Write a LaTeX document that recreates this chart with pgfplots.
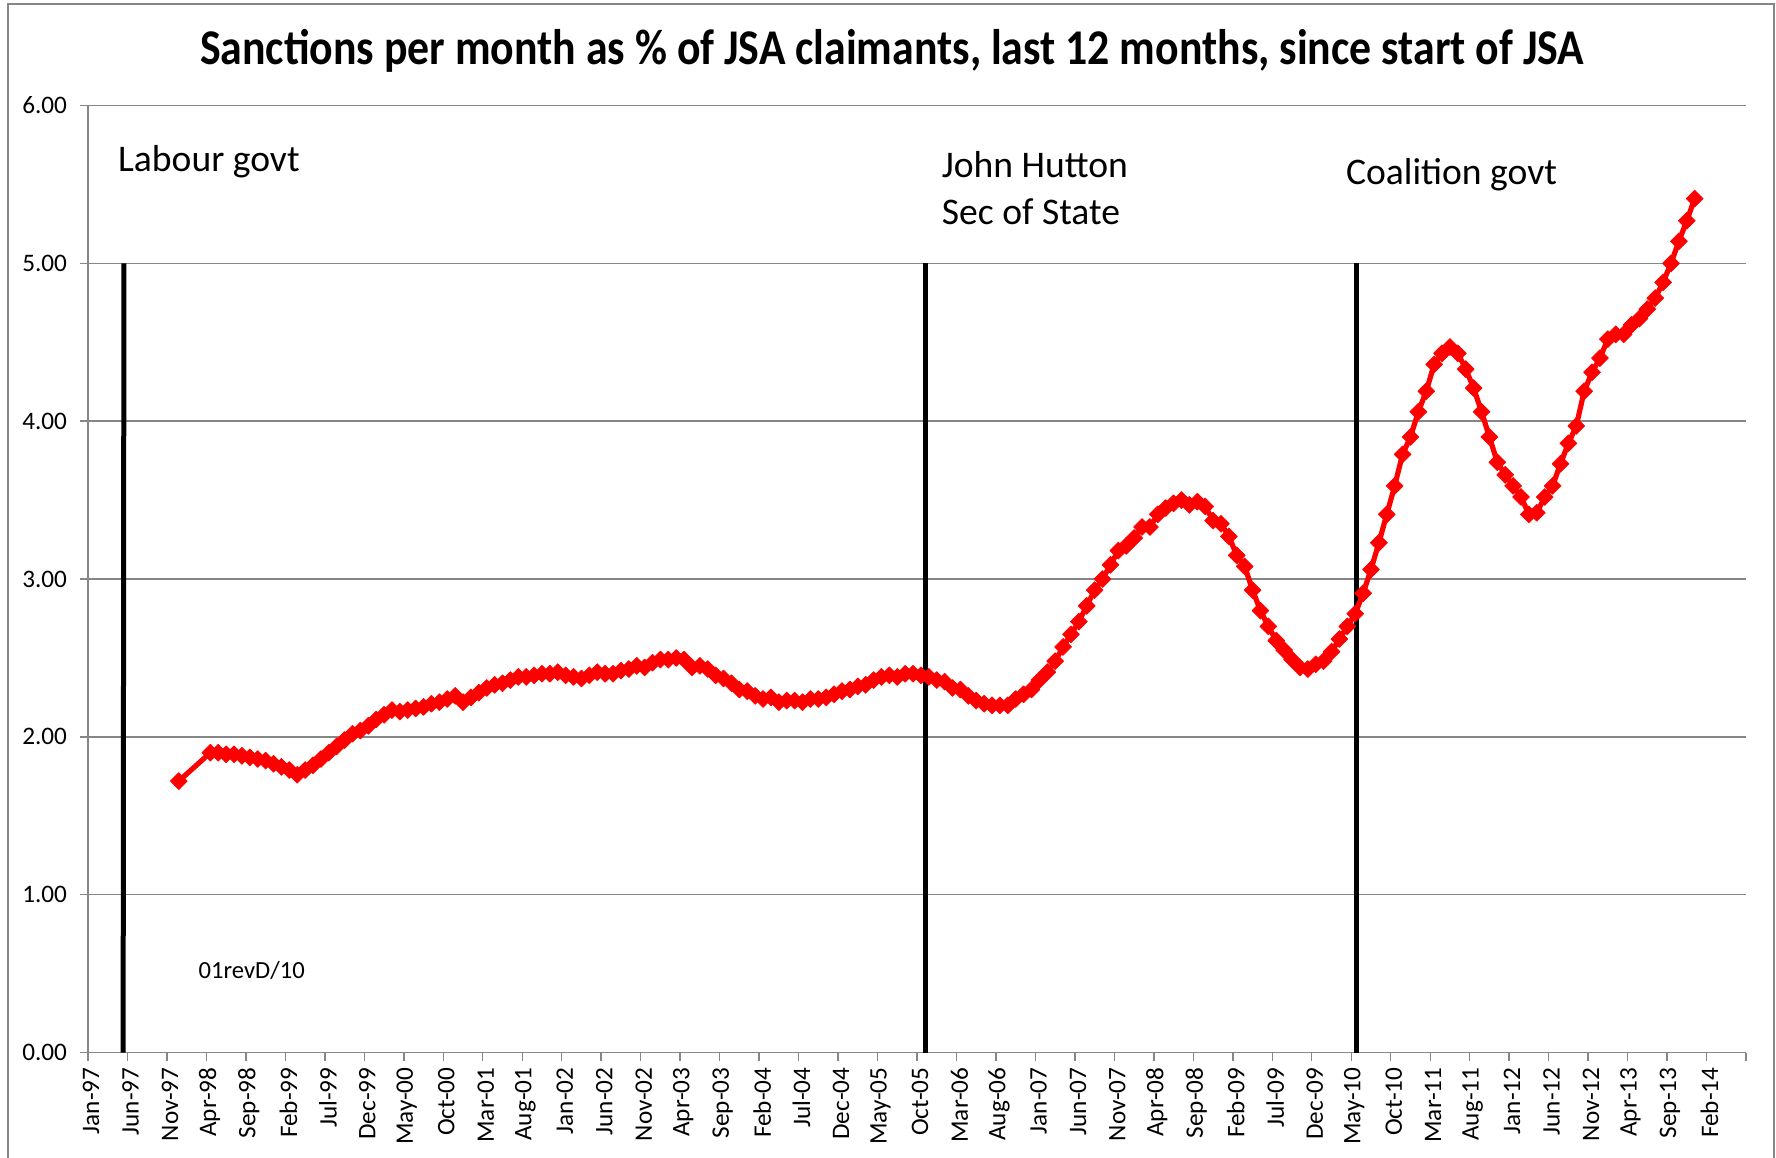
\documentclass[border=0pt]{standalone}
\usepackage{fontspec}
\setmainfont{Carlito}
\usepackage{pgfplots}
\pgfplotsset{compat=1.18}
\definecolor{gridgray}{RGB}{134,134,134}
\begin{document}
\begin{tikzpicture}
\useasboundingbox (0,0) rectangle (888pt,578.5pt);
\draw[gridgray, line width=0.75pt] (4pt,-5pt) -- (4pt,576.5pt) -- (887pt,576.5pt) -- (887pt,-5pt);
\node[anchor=base, inner sep=0pt, xscale=0.876, font=\fontsize{25}{29}\selectfont\bfseries] at (446pt,546pt) {Sanctions per month as \% of JSA claimants, last 12 months, since start of JSA};
\begin{axis}[
  at={(44pt,52.2pt)}, anchor=south west,
  scale only axis, width=829pt, height=473.55pt,
  xmin=0, xmax=210, ymin=0, ymax=6,
  axis x line*=bottom, axis y line*=left,
  axis line style={gridgray, line width=0.7pt, -},
  ymajorgrids, grid style={gridgray, line width=0.7pt},
  ytick={0,1,2,3,4,5,6},
  yticklabels={0.00,1.00,2.00,3.00,4.00,5.00,6.00},
  xtick={0,5,...,210},
  xticklabels={Jan-97,Jun-97,Nov-97,Apr-98,Sep-98,Feb-99,Jul-99,Dec-99,May-00,Oct-00,Mar-01,Aug-01,Jan-02,Jun-02,Nov-02,Apr-03,Sep-03,Feb-04,Jul-04,Dec-04,May-05,Oct-05,Mar-06,Aug-06,Jan-07,Jun-07,Nov-07,Apr-08,Sep-08,Feb-09,Jul-09,Dec-09,May-10,Oct-10,Mar-11,Aug-11,Jan-12,Jun-12,Nov-12,Apr-13,Sep-13,Feb-14,{}},
  tick align=outside, major tick length=4pt,
  tick style={gridgray, line width=0.7pt},
  ticklabel style={font=\fontsize{12.6}{14}\selectfont},
  xticklabel style={rotate=90, anchor=east, yshift=-1.5pt},
  yticklabel style={xshift=-3pt},
  clip=false,
]
\addplot[black, line width=2.5pt] coordinates {(4.45,0) (4.55,5)};
\addplot[black, line width=2.5pt] coordinates {(106.1,0) (106.1,5)};
\addplot[black, line width=2.5pt] coordinates {(160.7,0) (160.7,5)};
\addplot[red, line width=2.6pt, line join=round, mark=square*, mark size=3.0pt, mark options={rotate=45, solid, fill=red, draw=red, line width=0.3pt}] table {
x y
11.5 1.72
15.5 1.90
16.5 1.90
17.5 1.89
18.5 1.89
19.5 1.88
20.5 1.87
21.5 1.86
22.5 1.85
23.5 1.83
24.5 1.81
25.5 1.79
26.5 1.76
27.5 1.79
28.5 1.82
29.5 1.86
30.5 1.90
31.5 1.94
32.5 1.98
33.5 2.02
34.5 2.04
35.5 2.07
36.5 2.11
37.5 2.14
38.5 2.17
39.5 2.16
40.5 2.17
41.5 2.18
42.5 2.19
43.5 2.21
44.5 2.22
45.5 2.24
46.5 2.26
47.5 2.22
48.5 2.25
49.5 2.28
50.5 2.31
51.5 2.33
52.5 2.34
53.5 2.36
54.5 2.38
55.5 2.38
56.5 2.39
57.5 2.40
58.5 2.40
59.5 2.41
60.5 2.39
61.5 2.38
62.5 2.37
63.5 2.39
64.5 2.41
65.5 2.40
66.5 2.40
67.5 2.42
68.5 2.43
69.5 2.45
70.5 2.44
71.5 2.47
72.5 2.49
73.5 2.49
74.5 2.50
75.5 2.49
76.5 2.44
77.5 2.45
78.5 2.43
79.5 2.39
80.5 2.37
81.5 2.34
82.5 2.30
83.5 2.29
84.5 2.26
85.5 2.24
86.5 2.25
87.5 2.22
88.5 2.23
89.5 2.23
90.5 2.22
91.5 2.24
92.5 2.24
93.5 2.25
94.5 2.27
95.5 2.29
96.5 2.30
97.5 2.32
98.5 2.33
99.5 2.36
100.5 2.38
101.5 2.39
102.5 2.38
103.5 2.40
104.5 2.40
105.5 2.39
106.5 2.38
107.5 2.36
108.5 2.35
109.5 2.31
110.5 2.30
111.5 2.26
112.5 2.23
113.5 2.21
114.5 2.20
115.5 2.20
116.5 2.20
117.5 2.24
118.5 2.27
119.5 2.30
120.5 2.36
121.5 2.41
122.5 2.48
123.5 2.57
124.5 2.65
125.5 2.73
126.5 2.83
127.5 2.93
128.5 3.00
129.5 3.09
130.5 3.18
131.5 3.21
132.5 3.26
133.5 3.33
134.5 3.33
135.5 3.41
136.5 3.45
137.5 3.48
138.5 3.50
139.5 3.47
140.5 3.49
141.5 3.46
142.5 3.37
143.5 3.35
144.5 3.27
145.5 3.15
146.5 3.08
147.5 2.93
148.5 2.80
149.5 2.70
150.5 2.61
151.5 2.55
152.5 2.49
153.5 2.44
154.5 2.43
155.5 2.46
156.5 2.48
157.5 2.54
158.5 2.62
159.5 2.70
160.5 2.78
161.5 2.91
162.5 3.06
163.5 3.23
164.5 3.41
165.5 3.59
166.5 3.79
167.5 3.90
168.5 4.06
169.5 4.19
170.5 4.36
171.5 4.43
172.5 4.47
173.5 4.43
174.5 4.33
175.5 4.21
176.5 4.06
177.5 3.90
178.5 3.74
179.5 3.66
180.5 3.59
181.5 3.52
182.5 3.41
183.5 3.42
184.5 3.52
185.5 3.59
186.5 3.73
187.5 3.86
188.5 3.97
189.5 4.19
190.5 4.31
191.5 4.40
192.5 4.52
193.5 4.55
194.5 4.55
195.5 4.61
196.5 4.65
197.5 4.71
198.5 4.78
199.5 4.88
200.5 5.00
201.5 5.14
202.5 5.27
203.5 5.41
};
\node[anchor=base west, inner sep=0pt, font=\fontsize{18.8}{23}\selectfont] at (axis cs:3.77,5.58) {Labour govt};
\node[anchor=base west, inner sep=0pt, font=\fontsize{18.8}{23}\selectfont] at (axis cs:108.1,5.545) {John Hutton};
\node[anchor=base west, inner sep=0pt, font=\fontsize{18.8}{23}\selectfont] at (axis cs:108.1,5.243) {Sec of State};
\node[anchor=base west, inner sep=0pt, font=\fontsize{18.8}{23}\selectfont] at (axis cs:159.3,5.499) {Coalition govt};
\node[anchor=base west, inner sep=0pt, font=\fontsize{12.3}{14}\selectfont] at (axis cs:13.97,0.471) {01revD/10};
\end{axis}
\end{tikzpicture}
\end{document}
